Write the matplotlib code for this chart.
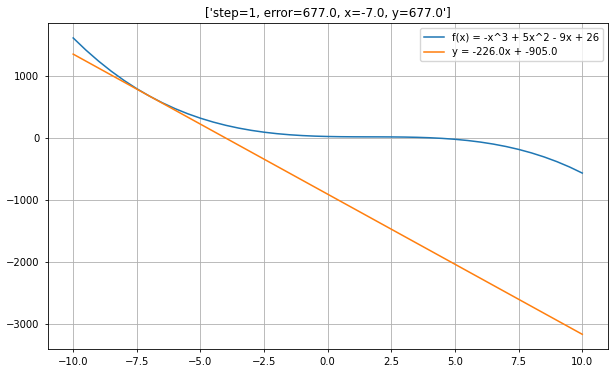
import matplotlib.pyplot as plt

# curve values (x step 0.5)
x_curve = [-10, -9.5, -9, -8.5, -8, -7.5, -7, -6.5, -6, -5.5, -5, -4.5, -4, -3.5,
           -3, -2.5, -2, -1.5, -1, -0.5, 0, 0.5, 1, 1.5, 2, 2.5, 3, 3.5, 4, 4.5,
           5, 5.5, 6, 6.5, 7, 7.5, 8, 8.5, 9, 9.5, 10]
y_curve = [1616, 1420.1, 1241, 1077.9, 930, 796.6, 677, 570.4, 476, 393.1, 321,
           258.9, 206, 161.6, 125, 95.4, 72, 54.1, 41, 31.9, 26, 22.6, 21, 20.4,
           20, 19.1, 17, 12.9, 6, -4.4, -19, -38.6, -64, -95.9, -135, -182.1,
           -238, -303.4, -379, -465.6, -564]

# tangent line endpoints
x_line = [-10, 10]
y_line = [1355, -3165]

title = "['step=1, error=677.0, x=-7.0, y=677.0']"
label_curve = "f(x) = -x^3 + 5x^2 - 9x + 26"
label_line = "y = -226.0x + -905.0"

plt.rcParams['font.size'] = 7.2

fig, ax = plt.subplots(figsize=(6.12, 3.73), dpi=100)
fig.subplots_adjust(left=0.078, right=0.993, top=0.938, bottom=0.064)

ax.plot(x_curve, y_curve, color='#1f77b4', lw=1.1, label=label_curve)
ax.plot(x_line, y_line, color='#ff7f0e', lw=1.1, label=label_line)

ax.set_title(title, fontsize=8.6, pad=4.3)
ax.set_xticks([-10, -7.5, -5, -2.5, 0, 2.5, 5, 7.5, 10])
ax.set_yticks([-3000, -2000, -1000, 0, 1000])
ax.tick_params(labelsize=7.2, length=2.5, width=0.6)
for s in ax.spines.values():
    s.set_linewidth(0.6)
ax.grid(True, linewidth=0.6)
ax.legend(loc='upper right', fontsize=7.2)

fig.savefig('out.png', dpi=100)
